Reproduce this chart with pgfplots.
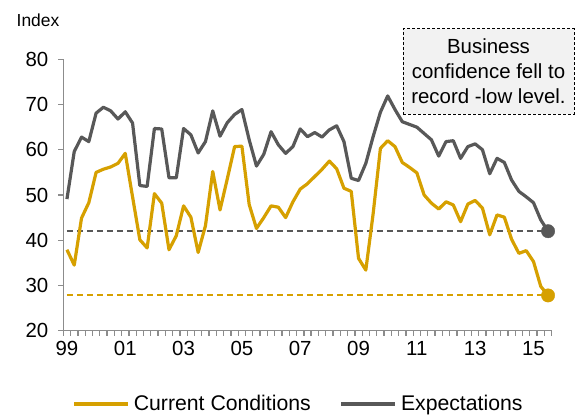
\documentclass[border=0pt]{standalone}
\usepackage{pgfplots}
\pgfplotsset{compat=1.18}
\usepackage{fontspec}
\setmainfont{Liberation Sans}
\definecolor{cgold}{RGB}{214,160,0}
\definecolor{dgray}{RGB}{88,88,88}
\definecolor{agray}{RGB}{140,140,140}
\definecolor{boxfill}{RGB}{242,242,242}
\begin{document}
\begin{tikzpicture}[x=1bp,y=1bp]
\useasboundingbox (0,0) rectangle (575,418);
\begin{axis}[
  at={(63.3bp,87.3bp)}, anchor=south west,
  scale only axis, width=488.4bp, height=271.4bp,
  xmin=-0.5, xmax=66.5, ymin=20, ymax=80,
  clip=false,
  axis lines*=left,
  axis line style={agray, line width=1.5bp},
  ytick={20,30,...,80},
  xtick={0,8,...,64},
  xticklabels={99,01,03,05,07,09,11,13,15},
  minor xtick={-0.5,0.5,...,66.5},
  tick align=outside,
  major tick length=5bp, minor tick length=5bp,
  tick style={agray, line width=1.3bp},
  every major x tick/.append style={draw=none},
  ticklabel style={font=\fontsize{20.5}{24}\selectfont},
  xticklabel style={yshift=-2.5bp},
  yticklabel style={xshift=-6.5bp},
  /pgf/number format/assume math mode=true,
  legend columns=2,
  legend style={at={(0.0192,-0.270)}, anchor=west, draw=none, fill=none,
    inner sep=0pt, outer sep=0pt,
    nodes={inner sep=0pt, outer sep=0pt},
    font=\fontsize{21.3}{25}\selectfont,
    /tikz/every odd column/.append style={column sep=4bp},
    /tikz/every even column/.append style={column sep=29bp}},
  legend image code/.code={\draw[#1] (0bp,0bp) -- (54bp,0bp);},
]
\addplot[dgray, line width=1.8bp, dash pattern=on 6bp off 4bp, forget plot] coordinates {(0,42) (66,42)};
\addplot[cgold, line width=2bp, dash pattern=on 6bp off 4bp, forget plot] coordinates {(0,27.8) (66,27.8)};
\addplot[cgold, line width=3.2bp, line join=round] coordinates {
(0,37.9)(1,34.5)(2,44.9)(3,48.3)(4,55.0)(5,55.7)(6,56.2)(7,57.0)(8,59.2)(9,49.6)(10,40.1)(11,38.3)(12,50.3)(13,48.2)(14,37.9)(15,41.0)(16,47.6)(17,45.1)(18,37.3)(19,43.2)(20,55.2)(21,46.7)(22,53.6)(23,60.7)(24,60.8)(25,47.9)(26,42.6)(27,45.0)(28,47.6)(29,47.3)(30,45.0)(31,48.5)(32,51.3)(33,52.5)(34,54.1)(35,55.7)(36,57.5)(37,55.8)(38,51.5)(39,50.8)(40,36.0)(41,33.4)(42,45.8)(43,60.3)(44,62.0)(45,60.7)(46,57.2)(47,56.1)(48,54.9)(49,50.0)(50,48.2)(51,46.9)(52,48.5)(53,47.8)(54,44.1)(55,48.0)(56,48.8)(57,47.1)(58,41.2)(59,45.6)(60,45.1)(61,40.2)(62,37.1)(63,37.7)(64,35.3)(65,29.8)(66,27.8)};
\addlegendentry{Current Conditions}
\addplot[dgray, line width=3.2bp, line join=round] coordinates {
(0,49.1)(1,59.6)(2,62.8)(3,61.8)(4,68.1)(5,69.4)(6,68.6)(7,66.8)(8,68.4)(9,65.9)(10,52.1)(11,51.9)(12,64.7)(13,64.6)(14,53.8)(15,53.8)(16,64.7)(17,63.3)(18,59.3)(19,61.8)(20,68.6)(21,63.0)(22,66.0)(23,67.8)(24,68.9)(25,62.2)(26,56.4)(27,59.0)(28,64.0)(29,61.1)(30,59.2)(31,60.7)(32,64.6)(33,62.9)(34,63.8)(35,62.8)(36,64.4)(37,65.3)(38,61.8)(39,53.7)(40,53.2)(41,57.0)(42,62.9)(43,68.3)(44,71.9)(45,68.9)(46,66.2)(47,65.6)(48,65.0)(49,63.6)(50,62.2)(51,58.6)(52,61.8)(53,62.0)(54,58.1)(55,60.7)(56,61.3)(57,60.0)(58,54.7)(59,58.1)(60,57.2)(61,53.3)(62,50.8)(63,49.6)(64,48.3)(65,44.5)(66,42.0)};
\addlegendentry{Expectations}
\addplot[only marks, mark=*, mark size=6.7bp, cgold, forget plot] coordinates {(66,27.8)};
\addplot[only marks, mark=*, mark size=6.7bp, dgray, forget plot] coordinates {(66,42.0)};
\end{axis}
\node[draw=black, dash pattern=on 3bp off 2bp, line width=1bp, fill=boxfill, align=center,
  font=\fontsize{20.5}{25}\selectfont, minimum width=171bp, minimum height=85bp, inner sep=0pt]
  at (488.5,346.5) {Business\\confidence fell to\\record -low level.};
\node[anchor=base west, font=\fontsize{17.5}{20}\selectfont, inner sep=0pt] at (16.5,391) {Index};
\end{tikzpicture}
\end{document}
